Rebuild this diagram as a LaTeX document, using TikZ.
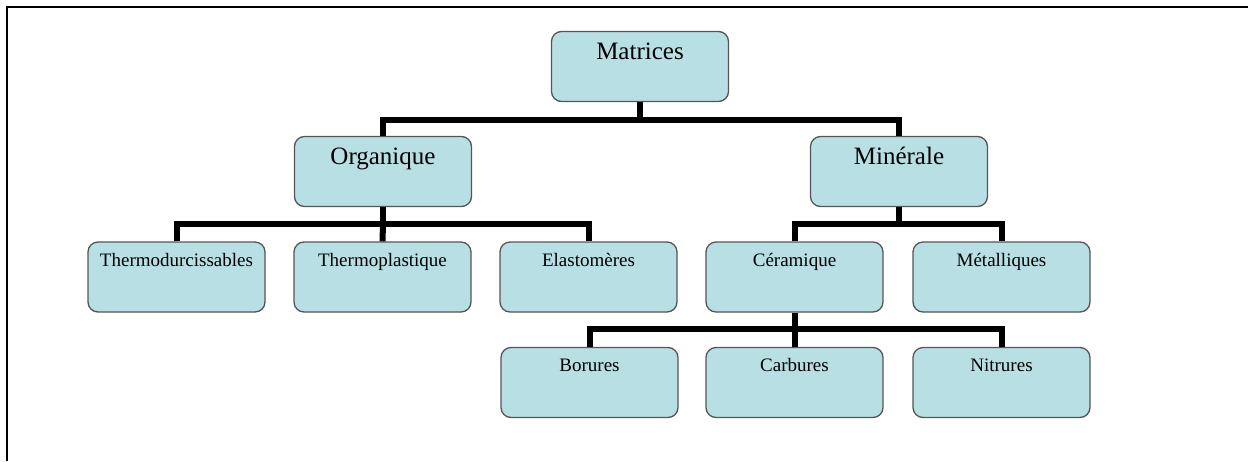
\documentclass[tikz,border=0pt]{standalone}
\usepackage{fontspec}
\setmainfont{Liberation Serif}
\definecolor{boxcyan}{RGB}{184,223,227}
\definecolor{boxedge}{RGB}{85,85,85}
\begin{document}
\begin{tikzpicture}[x=1pt, y=1pt,
    base node/.style={rectangle, rounded corners=10pt, draw=boxedge, line width=1.3pt, fill=boxcyan, minimum width=177pt, inner sep=0pt, align=center},
    main node/.style={base node, font=\fontsize{25}{30}\selectfont, text height=28pt, text depth=42pt},
    leaf node/.style={base node, font=\fontsize{19}{23}\selectfont, text height=24pt, text depth=46pt},
    bar/.style={line width=6pt}]

            \useasboundingbox (0,0) rectangle (1248,-461);
            \draw[line width=2pt] (7,-461) -- (7,-7) -- (1248,-7);

            \node[main node] at (640, -66.5) (mat) {Matrices};
            \node[main node] at (383, -171.5) (org) {Organique};
            \node[main node] at (899, -171.5) (min) {Minérale};
            \node[leaf node] at (176.5, -277) (thd) {Thermodurcissables};
            \node[leaf node] at (382.5, -277) (thp) {Thermoplastique};
            \node[leaf node] at (588.5, -277) (ela) {Elastomères};
            \node[leaf node] at (794.5, -277) (cer) {Céramique};
            \node[leaf node] at (1001.5, -277) (met) {Métalliques};
            \node[leaf node] at (589.5, -382.5) (bor) {Borures};
            \node[leaf node] at (794.5, -382.5) (car) {Carbures};
            \node[leaf node] at (1001.5, -382.5) (nit) {Nitrures};

            \coordinate (j1) at (640, -120);
            \coordinate (j2) at (383, -224);
            \coordinate (j3) at (899, -224);
            \coordinate (j4) at (794.5, -329);

            \draw[bar] (mat.south) -- (j1);
            \draw[bar] (org.north) |- (j1) -| (min.north);
            \draw[bar] (org.south) -- (j2);
            \draw[bar] (thd.north) |- (j2) -| (ela.north);
            \draw[bar] (j2) -- (thp.north);
            \draw[bar] (min.south) -- (j3);
            \draw[bar] (cer.north) |- (j3) -| (met.north);
            \draw[bar] (cer.south) -- (j4);
            \draw[bar] (bor.north) |- (j4) -| (nit.north);
            \draw[bar] (j4) -- (car.north);
        \end{tikzpicture}
\end{document}
